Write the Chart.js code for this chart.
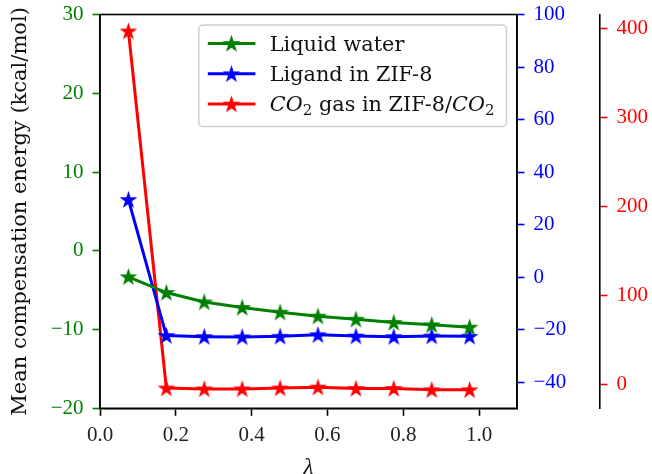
<!DOCTYPE html>
<html><head><meta charset="utf-8">
<script src="https://cdn.jsdelivr.net/npm/chart.js@4.4.1/dist/chart.umd.min.js"></script>
<style>html,body{margin:0;padding:0;background:#fff}#wrap{width:652px;height:474px;position:relative}</style>
</head><body><div id="wrap"><canvas id="c" width="652" height="474"></canvas></div>
<script>
// ---------- data ----------
const lambdas = [0.075, 0.175, 0.275, 0.375, 0.475, 0.575, 0.675, 0.775, 0.875, 0.975];
const liquidWater = [-3.3, -5.3, -6.5, -7.2, -7.8, -8.3, -8.7, -9.1, -9.4, -9.7];
const ligandInZIF8 = [29.5, -22.3, -22.7, -22.8, -22.6, -22.0, -22.5, -22.7, -22.5, -22.6];
const co2GasInZIF8 = [397, -4.5, -5.5, -5.5, -4.5, -3.5, -5.0, -5.0, -6.5, -6.5];
const seriesNames = ['Liquid water', 'Ligand in ZIF-8', '$CO_2$ gas in ZIF-8/$CO_2$'];
const seriesColors = ['#008000', '#0000ff', '#ff0000'];
const xTitle = 'λ';
const yTitle = 'Mean compensation energy (kcal/mol)';
const greenRange = [-20, 30];
const blueRange = [-50, 100];
const redRange = [-27.3, 415.6];

const FONT = "'Liberation Serif', 'Times New Roman', serif";
const TFONT = "'DejaVu Serif', serif";

function starCanvas(color, R) {
  const size = Math.ceil(2 * R + 4);
  const c = document.createElement('canvas');
  c.width = c.height = size;
  const g = c.getContext('2d');
  const cx = size / 2, cy = size / 2 + 0.6, r = R * 0.381966;
  g.beginPath();
  for (let i = 0; i < 10; i++) {
    const a = -Math.PI / 2 + i * Math.PI / 5;
    const rad = i % 2 ? r : R;
    g.lineTo(cx + rad * Math.cos(a), cy + rad * Math.sin(a));
  }
  g.closePath();
  g.fillStyle = color; g.fill();
  g.lineWidth = 1.3; g.strokeStyle = color; g.lineJoin = 'miter'; g.stroke();
  return c;
}
const stars = seriesColors.map(c => starCanvas(c, 7.3));

const fmtNum = v => (v < 0 ? '\u2212' + Math.abs(v) : String(v));

function mkDataset(i, values, axis) {
  return {
    label: seriesNames[i],
    data: lambdas.map((x, k) => ({x: x, y: values[k]})),
    borderColor: seriesColors[i],
    backgroundColor: seriesColors[i],
    borderWidth: 3,
    pointStyle: stars[i],
    pointRadius: 7,
    tension: 0,
    yAxisID: axis
  };
}

function parseRich(s) {
  const segs = [];
  s.split('$').forEach((p, idx) => {
    if (!p) return;
    if (idx % 2 === 0) { segs.push({t: p, style: 'n'}); return; }
    const re = /([^_]+)|_(\w)/g; let m;
    while ((m = re.exec(p))) {
      if (m[1]) segs.push({t: m[1], style: 'i'});
      else segs.push({t: m[2], style: 's'});
    }
  });
  return segs;
}

const legendPlugin = {
  id: 'innerLegend',
  afterDraw(chart) {
    const ctx = chart.ctx, ca = chart.chartArea;
    const fs = 20.8;
    const fontFor = st => st === 'i' ? `italic ${fs}px ${TFONT}` : st === 's' ? `${Math.round(fs * 0.7)}px ${TFONT}` : `${fs}px ${TFONT}`;
    const rich = seriesNames.map(parseRich);
    ctx.save();
    const widths = rich.map(segs => segs.reduce((w, sg) => { ctx.font = fontFor(sg.style); return w + ctx.measureText(sg.t).width; }, 0));
    const maxW = Math.max(...widths);
    const boxW = 71 + maxW + 12, boxH = 101.5;
    const left = ca.right - 10.5 - boxW, top = ca.top + 10.5;
    ctx.beginPath();
    ctx.roundRect(left, top, boxW, boxH, 4);
    ctx.fillStyle = 'rgba(255,255,255,0.8)';
    ctx.fill();
    ctx.lineWidth = 1.5; ctx.strokeStyle = '#d0d0d0'; ctx.stroke();
    rich.forEach((segs, i) => {
      const y = top + 18.5 + i * 30.3;
      ctx.beginPath();
      ctx.moveTo(left + 9, y); ctx.lineTo(left + 56.6, y);
      ctx.strokeStyle = seriesColors[i]; ctx.lineWidth = 3; ctx.stroke();
      const st = stars[i];
      ctx.drawImage(st, left + 32.6 - st.width / 2, y - st.height / 2);
      let x = left + 71;
      ctx.fillStyle = '#111';
      ctx.textBaseline = 'alphabetic';
      const base = y + 7;
      segs.forEach(sg => {
        ctx.font = fontFor(sg.style);
        ctx.fillText(sg.t, x, sg.style === 's' ? base + 4 : base);
        x += ctx.measureText(sg.t).width;
      });
    });
    ctx.restore();
  }
};

const framePlugin = {
  id: 'frame',
  afterDatasetsDraw(chart) {
    const ctx = chart.ctx, ca = chart.chartArea;
    ctx.save();
    ctx.strokeStyle = '#000'; ctx.lineWidth = 1.6;
    ctx.strokeRect(ca.left, ca.top, ca.right - ca.left, ca.bottom - ca.top);
    ctx.restore();
  }
};

function yAxis(pos, color, range, step, width, weight, extra) {
  return Object.assign({
    type: 'linear', position: pos, min: range[0], max: range[1], weight: weight,
    afterFit(s) { s.width = width; s.paddingTop = 0; s.paddingBottom = 0; },
    border: {display: true, color: '#000', width: 1.6},
    grid: {drawOnChartArea: false, drawTicks: true, tickLength: 7.5, tickWidth: 1.6, tickColor: color},
    ticks: {stepSize: step, includeBounds: false, color: color, padding: 9,
            font: {family: FONT, size: 21}, callback: v => fmtNum(v)}
  }, extra || {});
}

new Chart(document.getElementById('c'), {
  type: 'line',
  data: {datasets: [
    mkDataset(0, liquidWater, 'yG'),
    mkDataset(1, ligandInZIF8, 'yB'),
    mkDataset(2, co2GasInZIF8, 'yR')
  ]},
  options: {
    responsive: false, animation: false, devicePixelRatio: 1,
    layout: {padding: {top: 14.5, left: 0, right: 0, bottom: 0}},
    plugins: {legend: {display: false}, tooltip: {enabled: false}},
    scales: {
      x: {
        type: 'linear', position: 'bottom', min: 0, max: 1.1,
        afterFit(s) { s.height = 65.7; },
        border: {display: true, color: '#000', width: 1.6},
        grid: {drawOnChartArea: false, drawTicks: true, tickLength: 7.5, tickWidth: 1.6, tickColor: '#000'},
        ticks: {stepSize: 0.2, includeBounds: false, color: '#222', padding: 7, maxRotation: 0,
                font: {family: FONT, size: 21}, callback: v => v.toFixed(1)},
        title: {display: true, text: xTitle, color: '#111', padding: {top: 0, bottom: -2},
                font: {family: FONT, size: 23, style: 'italic', lineHeight: 0.7}}
      },
      yG: yAxis('left', '#008000', greenRange, 10, 100, 1, {
        title: {display: true, text: yTitle, color: '#111', padding: {top: 8, bottom: 0},
                font: {family: TFONT, size: 21, lineHeight: 1.2}}
      }),
      yB: yAxis('right', '#0000ff', blueRange, 20, 83, 1),
      yR: yAxis('right', '#ff0000', redRange, 100, 52, 2)
    }
  },
  plugins: [framePlugin, legendPlugin]
});
</script>
</body></html>
